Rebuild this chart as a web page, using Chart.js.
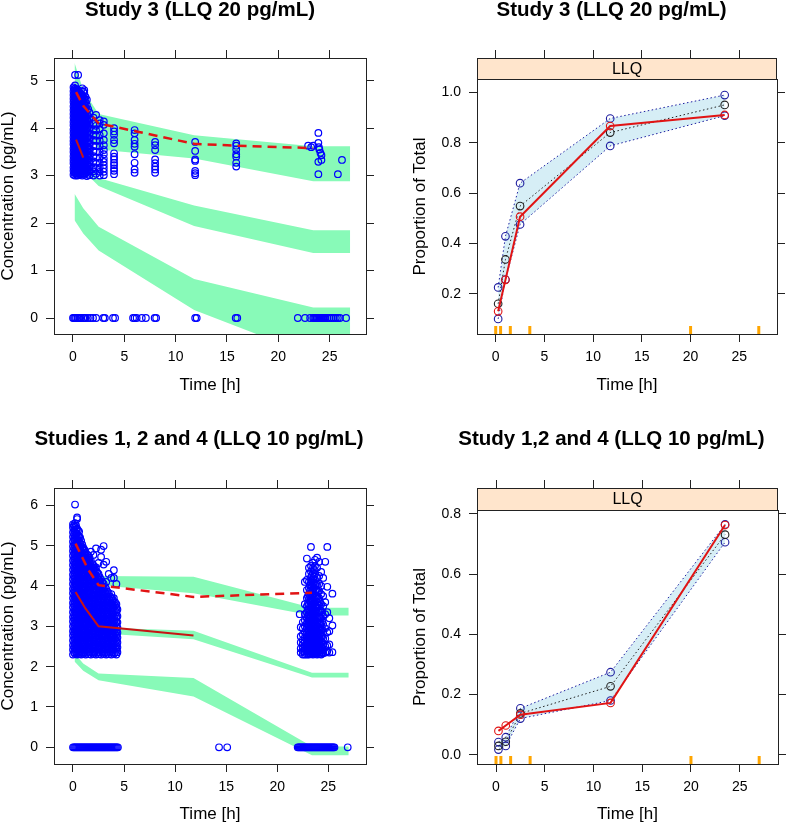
<!DOCTYPE html>
<html>
<head>
<meta charset="UTF-8">
<script src="https://cdn.jsdelivr.net/npm/chart.js@4.4.1/dist/chart.umd.min.js"></script>
<style>
  body { margin: 0; background: #fff; width: 788px; height: 826px; overflow: hidden; position: relative; }
  canvas { position: absolute; }
</style>
</head>
<body>
<canvas id="vpcS3" width="394" height="413" style="left:0;top:0"></canvas>
<canvas id="llqS3" width="394" height="413" style="left:394px;top:0"></canvas>
<canvas id="vpcS124" width="394" height="413" style="left:0;top:413px"></canvas>
<canvas id="llqS124" width="394" height="413" style="left:394px;top:413px"></canvas>
<script>
// ---- axes ----
const timeTicks = [0, 5, 10, 15, 20, 25]
const timeLabels = ['0', '5', '10', '15', '20', '25']
const concTicksS3 = [0, 1, 2, 3, 4, 5]
const concLabelsS3 = ['0', '1', '2', '3', '4', '5']
const concTicksS124 = [0, 1, 2, 3, 4, 5, 6]
const concLabelsS124 = ['0', '1', '2', '3', '4', '5', '6']
const fracTicksS3 = [0.2, 0.4, 0.6, 0.8, 1.0]
const fracLabelsS3 = ['0.2', '0.4', '0.6', '0.8', '1.0']
const fracTicksS124 = [0, 0.2, 0.4, 0.6, 0.8]
const fracLabelsS124 = ['0.0', '0.2', '0.4', '0.6', '0.8']

// ---- simulated prediction intervals (green bands) ----
const bandTime = [0.15, 1, 2.5, 11.8, 23.4, 27]
const s3HiUpper = [5.38, 4.8, 4.3, 3.85, 3.62, 3.62]
const s3HiLower = [4.5, 4.0, 3.55, 3.36, 2.88, 2.88]
const s3MidUpper = [3.9, 3.4, 2.95, 2.37, 1.85, 1.85]
const s3MidLower = [3.55, 3.1, 2.78, 1.94, 1.37, 1.37]
const s3LoUpper = [2.62, 2.31, 1.92, 0.82, 0.22, 0.22]
const s3LoLower = [2.06, 1.78, 1.42, 0.17, -0.8, -0.8]

const s124HiUpper = [5.6, 4.9, 4.25, 4.23, 3.46, 3.46]
const s124HiLower = [5.0, 4.4, 4.02, 3.82, 3.27, 3.27]
const s124MidUpper = [3.9, 3.45, 2.97, 2.89, 1.85, 1.85]
const s124MidLower = [3.6, 3.2, 2.83, 2.68, 1.73, 1.73]
const s124LoUpper = [2.33, 2.08, 1.83, 1.72, 0.02, 0.02]
const s124LoLower = [2.13, 1.9, 1.66, 1.26, -0.2, -0.2]

// ---- observed percentiles (red lines) ----
const s3P95Time = [0.3, 1, 2.5, 11.8, 16, 23.4]
const s3P95 = [4.76, 4.47, 4.1, 3.67, 3.63, 3.58]
const s3P50Time = [0.3, 1]
const s3P50 = [3.76, 3.38]
const s124P95Time = [0.25, 1.5, 2.5, 11.8, 23.4]
const s124P95 = [5.05, 4.4, 4.02, 3.73, 3.83]
const s124P50Time = [0.25, 1.2, 2.5, 11.8]
const s124P50 = [3.85, 3.45, 3.0, 2.77]

// ---- observations, study 3 (one list of concentrations per time) ----
const s3ObsTime = [0.05, 0.12, 0.2, 0.27, 0.35, 0.42, 0.5, 0.6, 0.7, 0.8, 0.9, 1.0, 1.1, 1.22, 1.35, 1.48, 1.6, 2.0, 2.25, 2.6, 3.0, 4.0,
  6.0, 8.0, 11.9, 15.9, 22.9, 23.2, 23.4, 23.9, 23.95, 24.0, 24.1, 24.2, 25.8, 26.2]
const s3ObsConc = [
  [3.02, 3.1, 3.17, 3.26, 3.33, 3.41, 3.5, 3.57, 3.66, 3.73, 3.81, 3.9, 3.97, 4.06, 4.13, 4.22, 4.3, 4.38, 4.46, 4.55, 4.62, 4.7, 4.78, 4.86],
  [3.06, 3.14, 3.22, 3.3, 3.38, 3.46, 3.54, 3.62, 3.7, 3.78, 3.86, 3.94, 4.02, 4.1, 4.18, 4.26, 4.34, 4.42, 4.5, 4.58, 4.66, 4.74, 4.82],
  [3.0, 3.08, 3.15, 3.24, 3.31, 3.4, 3.47, 3.55, 3.63, 3.71, 3.79, 3.87, 3.95, 4.03, 4.11, 4.19, 4.27, 4.35, 4.43, 4.51, 4.59, 4.67, 4.75, 4.83, 4.9, 5.12],
  [3.05, 3.13, 3.21, 3.29, 3.37, 3.45, 3.53, 3.61, 3.69, 3.77, 3.85, 3.93, 4.01, 4.09, 4.17, 4.25, 4.33, 4.41, 4.49, 4.57, 4.65, 4.73, 4.79],
  [3.04, 3.12, 3.2, 3.28, 3.36, 3.45, 3.53, 3.61, 3.69, 3.78, 3.86, 3.93, 4.01, 4.09, 4.17, 4.25, 4.34, 4.42, 4.5, 4.58, 4.66, 4.74, 4.82],
  [3.0, 3.08, 3.16, 3.24, 3.32, 3.4, 3.49, 3.57, 3.65, 3.73, 3.82, 3.9, 3.98, 4.06, 4.14, 4.22, 4.3, 4.38, 4.46, 4.54, 4.62, 4.7, 4.77],
  [3.01, 3.09, 3.18, 3.27, 3.35, 3.43, 3.52, 3.6, 3.68, 3.76, 3.84, 3.92, 4.0, 4.08, 4.16, 4.24, 4.32, 4.41, 4.49, 4.57, 4.65, 4.73, 4.8, 5.12],
  [3.05, 3.14, 3.22, 3.31, 3.4, 3.48, 3.57, 3.66, 3.74, 3.83, 3.91, 4.0, 4.09, 4.17, 4.26, 4.35, 4.43, 4.52, 4.6, 4.68, 4.76],
  [3.03, 3.11, 3.19, 3.28, 3.37, 3.46, 3.54, 3.62, 3.7, 3.79, 3.87, 3.96, 4.05, 4.13, 4.21, 4.3, 4.39, 4.47, 4.56, 4.64, 4.72],
  [3.06, 3.14, 3.23, 3.32, 3.41, 3.5, 3.58, 3.66, 3.75, 3.83, 3.92, 4.01, 4.09, 4.17, 4.26, 4.34, 4.43, 4.51, 4.6, 4.68],
  [3.0, 3.09, 3.17, 3.25, 3.34, 3.42, 3.5, 3.59, 3.67, 3.76, 3.85, 3.93, 4.02, 4.1, 4.19, 4.28, 4.36, 4.45, 4.54, 4.62, 4.7, 4.84],
  [3.05, 3.14, 3.22, 3.31, 3.4, 3.48, 3.57, 3.66, 3.75, 3.84, 3.92, 4.01, 4.1, 4.19, 4.28, 4.37, 4.47, 4.57, 4.67, 4.77],
  [3.02, 3.1, 3.19, 3.27, 3.36, 3.44, 3.53, 3.62, 3.7, 3.79, 3.88, 3.97, 4.06, 4.15, 4.24, 4.33, 4.42, 4.52, 4.62, 4.74, 4.8],
  [3.06, 3.15, 3.24, 3.33, 3.42, 3.51, 3.6, 3.69, 3.78, 3.87, 3.96, 4.05, 4.14, 4.24, 4.34, 4.44, 4.55, 4.66],
  [2.99, 3.07, 3.16, 3.25, 3.34, 3.43, 3.52, 3.61, 3.7, 3.8, 3.89, 3.98, 4.08, 4.18, 4.28, 4.38, 4.48, 4.6],
  [3.04, 3.13, 3.22, 3.32, 3.41, 3.51, 3.61, 3.71, 3.81, 3.92, 4.03, 4.14, 4.26, 4.4],
  [3.01, 3.1, 3.19, 3.29, 3.38, 3.48, 3.58, 3.68, 3.78, 3.88, 3.99, 4.1, 4.21, 4.33],
  [3.0, 3.09, 3.18, 3.3, 3.41, 3.52, 3.63, 3.75, 3.86, 3.98, 4.1, 4.22],
  [3.04, 3.15, 3.25, 3.38, 3.5, 3.62, 3.73, 3.84, 3.95, 4.05, 4.28],
  [3.0, 3.08, 3.17, 3.27, 3.38, 3.5, 3.62, 3.74, 3.85, 3.98, 4.1, 4.17],
  [3.01, 3.08, 3.15, 3.22, 3.29, 3.36, 3.45, 3.54, 3.64, 3.75, 3.89, 4.07, 4.14],
  [3.03, 3.1, 3.15, 3.22, 3.27, 3.34, 3.4, 3.47, 3.68, 3.75, 3.86, 3.93, 4.0],
  [3.06, 3.13, 3.27, 3.45, 3.61, 3.67, 3.75, 3.89, 3.96],
  [3.06, 3.13, 3.19, 3.26, 3.34, 3.54, 3.64, 3.71],
  [3.01, 3.05, 3.1, 3.31, 3.34, 3.52, 3.71],
  [3.19, 3.27, 3.4, 3.45, 3.55, 3.63, 3.68],
  [3.63], [3.6], [3.63], [3.03, 3.29, 3.69, 3.9], [3.6], [3.55], [3.48], [3.43, 3.33], [3.03], [3.33]
]
const s3BlqTime = [0, 0.1, 0.2, 0.3, 0.45, 0.6, 0.7, 0.8, 1.0, 1.1, 1.2, 1.45, 1.7, 1.95, 2.25, 2.95, 3.1, 3.9, 4.1, 5.85, 6.0, 6.2,
  6.7, 7.1, 7.95, 8.1, 11.9, 12.05, 15.85, 16.0, 21.9, 22.6, 23.1, 23.4, 23.5, 23.6, 23.7, 23.8, 23.9, 24.0, 24.1, 24.2,
  24.3, 24.4, 24.5, 24.6, 24.8, 25.0, 25.2, 25.4, 25.6, 25.8, 26.0, 26.6]

// ---- observations, studies 1, 2 and 4 ----
const s124ObsTime = [0, 0.1, 0.2, 0.3, 0.4, 0.5, 0.6, 0.7, 0.8, 0.9, 1, 1.12, 1.25, 1.37, 1.5, 1.62, 1.75, 1.87, 2, 2.12,
  2.25, 2.37, 2.5, 2.62, 2.75, 2.87, 3, 3.12, 3.25, 3.37, 3.5, 3.62, 3.75, 3.87, 4, 4.12, 4.25, 4.35,
  22.2, 22.3, 22.5, 22.7, 22.9, 23.0, 23.1, 23.2, 23.3, 23.4, 23.5, 23.6, 23.7, 23.8, 23.9, 24.0, 24.1, 24.2, 24.3, 24.4,
  24.5, 24.7, 24.9, 25.1, 25.4]
const s124ObsConc = [
  [2.3, 2.42, 2.53, 2.65, 2.77, 2.88, 3.0, 3.12, 3.23, 3.35, 3.47, 3.58, 3.7, 3.82, 3.93, 4.05, 4.17, 4.28, 4.4, 4.52, 4.63, 4.75, 4.87, 4.98, 5.1, 5.22, 5.33, 5.45, 5.53],
  [2.36, 2.48, 2.59, 2.71, 2.83, 2.94, 3.06, 3.18, 3.29, 3.41, 3.53, 3.64, 3.76, 3.88, 3.99, 4.11, 4.23, 4.34, 4.46, 4.58, 4.69, 4.81, 4.93, 5.04, 5.16, 5.28, 5.39, 5.5],
  [2.32, 2.44, 2.55, 2.67, 2.79, 2.9, 3.02, 3.14, 3.25, 3.37, 3.49, 3.6, 3.72, 3.84, 3.95, 4.07, 4.19, 4.3, 4.42, 4.54, 4.65, 4.77, 4.89, 5.0, 5.12, 5.24, 5.35, 5.47, 5.56, 6.02],
  [2.37, 2.49, 2.6, 2.72, 2.84, 2.95, 3.07, 3.19, 3.3, 3.42, 3.54, 3.65, 3.77, 3.89, 4.0, 4.12, 4.24, 4.35, 4.47, 4.59, 4.7, 4.82, 4.94, 5.05, 5.17, 5.29, 5.4, 5.5],
  [2.3, 2.41, 2.52, 2.64, 2.75, 2.86, 2.98, 3.1, 3.21, 3.33, 3.44, 3.56, 3.68, 3.79, 3.91, 4.02, 4.14, 4.26, 4.37, 4.49, 4.6, 4.72, 4.84, 4.95, 5.07, 5.19, 5.3, 5.42, 5.66, 5.7],
  [2.35, 2.47, 2.58, 2.7, 2.81, 2.93, 3.05, 3.16, 3.28, 3.39, 3.51, 3.63, 3.74, 3.86, 3.97, 4.09, 4.21, 4.32, 4.44, 4.55, 4.67, 4.79, 4.9, 5.02, 5.13, 5.25, 5.38],
  [2.31, 2.43, 2.54, 2.66, 2.78, 2.89, 3.01, 3.13, 3.24, 3.36, 3.48, 3.59, 3.71, 3.83, 3.94, 4.06, 4.18, 4.29, 4.41, 4.53, 4.64, 4.76, 4.88, 4.99, 5.11, 5.23, 5.35],
  [2.37, 2.48, 2.6, 2.72, 2.83, 2.95, 3.07, 3.18, 3.3, 3.42, 3.53, 3.65, 3.77, 3.88, 4.0, 4.12, 4.23, 4.35, 4.47, 4.58, 4.7, 4.82, 4.93, 5.05, 5.2],
  [2.3, 2.42, 2.54, 2.65, 2.77, 2.89, 3.0, 3.12, 3.24, 3.35, 3.47, 3.59, 3.7, 3.82, 3.94, 4.05, 4.17, 4.29, 4.4, 4.52, 4.64, 4.75, 4.87, 4.99, 5.12],
  [2.36, 2.48, 2.59, 2.71, 2.83, 2.94, 3.06, 3.18, 3.29, 3.41, 3.53, 3.64, 3.76, 3.88, 3.99, 4.11, 4.23, 4.34, 4.46, 4.58, 4.69, 4.81, 4.93, 5.03],
  [2.32, 2.43, 2.55, 2.67, 2.78, 2.9, 3.02, 3.13, 3.25, 3.37, 3.48, 3.6, 3.72, 3.83, 3.95, 4.07, 4.18, 4.3, 4.42, 4.53, 4.65, 4.77, 4.88, 4.96],
  [2.37, 2.49, 2.6, 2.72, 2.84, 2.95, 3.07, 3.19, 3.3, 3.42, 3.54, 3.65, 3.77, 3.89, 4.0, 4.12, 4.24, 4.35, 4.47, 4.59, 4.7, 4.82, 4.9],
  [2.3, 2.41, 2.53, 2.65, 2.76, 2.88, 3.0, 3.11, 3.23, 3.35, 3.46, 3.58, 3.7, 3.81, 3.93, 4.05, 4.16, 4.28, 4.4, 4.51, 4.63, 4.75, 4.82],
  [2.35, 2.47, 2.59, 2.7, 2.82, 2.94, 3.05, 3.17, 3.29, 3.4, 3.52, 3.64, 3.75, 3.87, 3.99, 4.1, 4.22, 4.34, 4.45, 4.57, 4.68, 4.78],
  [2.31, 2.43, 2.55, 2.66, 2.78, 2.9, 3.01, 3.13, 3.25, 3.36, 3.48, 3.6, 3.71, 3.83, 3.95, 4.06, 4.18, 4.3, 4.41, 4.53, 4.65, 4.76],
  [2.37, 2.48, 2.6, 2.72, 2.83, 2.95, 3.07, 3.18, 3.3, 3.42, 3.53, 3.65, 3.77, 3.88, 4.0, 4.12, 4.23, 4.35, 4.47, 4.58, 4.7],
  [2.3, 2.42, 2.53, 2.65, 2.77, 2.88, 3.0, 3.12, 3.23, 3.35, 3.47, 3.58, 3.7, 3.82, 3.93, 4.05, 4.17, 4.28, 4.4, 4.52, 4.62, 4.85],
  [2.36, 2.48, 2.59, 2.71, 2.83, 2.94, 3.06, 3.18, 3.29, 3.41, 3.53, 3.64, 3.76, 3.88, 3.99, 4.11, 4.23, 4.34, 4.46, 4.55],
  [2.32, 2.44, 2.55, 2.67, 2.79, 2.9, 3.02, 3.14, 3.25, 3.37, 3.49, 3.6, 3.72, 3.84, 3.95, 4.07, 4.19, 4.3, 4.42, 4.52, 4.77],
  [2.37, 2.49, 2.61, 2.72, 2.84, 2.96, 3.07, 3.19, 3.31, 3.42, 3.54, 3.66, 3.77, 3.89, 4.01, 4.12, 4.24, 4.36, 4.45],
  [2.3, 2.41, 2.53, 2.64, 2.76, 2.88, 2.99, 3.11, 3.22, 3.34, 3.46, 3.57, 3.69, 3.8, 3.92, 4.04, 4.15, 4.27, 4.38, 4.46, 4.93],
  [2.35, 2.47, 2.58, 2.7, 2.82, 2.93, 3.05, 3.17, 3.28, 3.4, 3.52, 3.63, 3.75, 3.87, 3.98, 4.1, 4.22, 4.34],
  [2.31, 2.43, 2.54, 2.66, 2.78, 2.89, 3.01, 3.12, 3.24, 3.36, 3.47, 3.59, 3.7, 3.82, 3.94, 4.05, 4.17, 4.3, 4.57],
  [2.36, 2.48, 2.6, 2.71, 2.83, 2.95, 3.06, 3.18, 3.3, 3.41, 3.53, 3.65, 3.76, 3.88, 4.0, 4.11, 4.22],
  [2.3, 2.42, 2.53, 2.65, 2.76, 2.88, 3.0, 3.11, 3.23, 3.34, 3.46, 3.58, 3.69, 3.81, 3.92, 4.04, 4.16, 4.72, 4.9],
  [2.37, 2.48, 2.6, 2.71, 2.83, 2.95, 3.06, 3.18, 3.29, 3.41, 3.53, 3.64, 3.76, 3.87, 3.99, 4.1],
  [2.32, 2.43, 2.55, 2.67, 2.78, 2.9, 3.01, 3.13, 3.25, 3.36, 3.48, 3.59, 3.71, 3.83, 3.94, 4.06, 4.53, 4.99],
  [2.36, 2.48, 2.59, 2.71, 2.82, 2.94, 3.06, 3.17, 3.29, 3.4, 3.52, 3.64, 3.75, 3.87, 3.98],
  [2.3, 2.42, 2.54, 2.65, 2.77, 2.88, 3.0, 3.12, 3.23, 3.35, 3.46, 3.58, 3.7, 3.81, 3.93, 4.1, 4.6],
  [2.35, 2.47, 2.58, 2.7, 2.82, 2.93, 3.05, 3.16, 3.28, 3.4, 3.51, 3.63, 3.74, 3.86],
  [2.31, 2.43, 2.54, 2.66, 2.77, 2.89, 3.01, 3.12, 3.24, 3.35, 3.47, 3.59, 3.7, 3.82, 4.3],
  [2.37, 2.48, 2.6, 2.72, 2.83, 2.95, 3.06, 3.18, 3.3, 3.41, 3.53, 3.64, 3.74],
  [2.3, 2.42, 2.53, 2.65, 2.77, 2.88, 3.0, 3.11, 3.23, 3.35, 3.46, 3.58, 3.7, 3.8, 4.2],
  [2.36, 2.47, 2.59, 2.71, 2.82, 2.94, 3.05, 3.17, 3.29, 3.4, 3.52, 3.63, 3.68],
  [2.32, 2.43, 2.55, 2.66, 2.78, 2.9, 3.01, 3.13, 3.24, 3.36, 3.48, 3.59, 3.7, 4.2, 4.39],
  [2.35, 2.47, 2.58, 2.7, 2.82, 2.93, 3.05, 3.16, 3.28, 3.4, 3.51, 3.6],
  [2.3, 2.42, 2.53, 2.65, 2.77, 2.88, 3.0, 3.11, 3.23, 3.35, 3.46, 3.55, 4.05],
  [2.36, 2.48, 2.6, 2.72, 2.84, 2.97, 3.1, 3.25, 3.42],
  [3.3],
  [2.35, 2.45, 2.6, 2.75, 2.98],
  [2.3, 2.38, 2.47, 2.56, 2.66, 2.8, 2.95, 3.1],
  [2.3, 2.37, 2.45, 2.53, 2.62, 2.72, 2.85, 3.0, 3.15, 3.3, 3.55, 4.1],
  [2.3, 2.38, 2.46, 2.55, 2.64, 2.74, 2.85, 2.96, 3.08, 3.2, 3.35, 3.5, 3.7, 3.9, 4.15, 4.68],
  [2.34, 2.42, 2.51, 2.6, 2.69, 2.79, 2.9, 3.02, 3.14, 3.27, 3.4, 3.56, 3.75],
  [2.3, 2.38, 2.46, 2.55, 2.63, 2.72, 2.81, 2.9, 3.0, 3.1, 3.2, 3.3, 3.42, 3.55, 3.68, 3.8, 3.95, 4.1, 4.3, 4.45],
  [2.34, 2.42, 2.51, 2.59, 2.68, 2.77, 2.86, 2.96, 3.06, 3.16, 3.26, 3.37, 3.49, 3.62, 3.75, 3.88, 4.02],
  [2.31, 2.39, 2.47, 2.56, 2.65, 2.74, 2.83, 2.93, 3.03, 3.13, 3.24, 3.35, 3.46, 3.58, 3.7, 3.82, 3.95, 4.08, 4.22, 4.36, 4.5, 4.97],
  [2.35, 2.43, 2.52, 2.61, 2.7, 2.79, 2.89, 2.99, 3.09, 3.19, 3.3, 3.41, 3.52, 3.64, 3.76, 3.88, 4.0, 4.14, 4.27],
  [2.3, 2.38, 2.47, 2.55, 2.64, 2.73, 2.82, 2.92, 3.02, 3.12, 3.22, 3.33, 3.44, 3.55, 3.67, 3.79, 3.91, 4.04, 4.17, 4.31, 4.45, 4.58],
  [2.34, 2.43, 2.52, 2.61, 2.7, 2.8, 2.9, 3.0, 3.11, 3.22, 3.33, 3.45, 3.57, 3.69, 3.82, 3.95, 4.09, 4.23, 4.4],
  [2.32, 2.4, 2.48, 2.57, 2.66, 2.75, 2.85, 2.95, 3.05, 3.16, 3.27, 3.38, 3.5, 3.62, 3.75, 3.88, 4.02, 4.16, 4.3, 4.5, 4.65],
  [2.36, 2.44, 2.53, 2.62, 2.72, 2.82, 2.92, 3.03, 3.14, 3.25, 3.37, 3.49, 3.62, 3.75, 3.9, 4.05],
  [2.3, 2.39, 2.48, 2.57, 2.67, 2.77, 2.88, 2.99, 3.1, 3.22, 3.34, 3.47, 3.6, 3.74, 3.88, 4.03, 4.2, 4.45, 4.7],
  [2.35, 2.44, 2.54, 2.64, 2.75, 2.86, 2.98, 3.1, 3.23, 3.37, 3.52, 3.68, 3.85],
  [2.31, 2.4, 2.5, 2.6, 2.71, 2.83, 2.95, 3.08, 3.22, 3.36, 3.52, 3.7, 3.88, 4.05, 4.25, 4.6],
  [2.35, 2.45, 2.56, 2.68, 2.8, 2.93, 3.07, 3.22, 3.4, 3.6],
  [2.3, 2.4, 2.5, 2.62, 2.75, 2.9, 3.05, 3.2, 3.38, 3.55, 3.8, 4.0, 4.35],
  [2.36, 2.47, 2.6, 2.75, 2.92, 3.12, 3.35],
  [2.33, 2.43, 2.55, 2.7, 2.86, 3.05, 3.25, 3.5, 3.75, 4.2],
  [2.35, 2.5, 2.7, 2.95, 3.3, 3.6, 4.6],
  [2.38, 2.52, 2.85, 3.35, 3.98, 4.97],
  [2.35, 2.55, 2.88, 3.2],
  [2.36, 3.02, 3.81]
]
const s124BlqTime = [0, 0.1, 0.2, 0.3, 0.4, 0.5, 0.6, 0.7, 0.8, 0.9, 1, 1.1, 1.2, 1.3, 1.4, 1.5, 1.6, 1.7, 1.8, 1.9, 2, 2.1,
  2.2, 2.3, 2.4, 2.5, 2.6, 2.7, 2.8, 2.9, 3, 3.1, 3.2, 3.3, 3.4, 3.5, 3.6, 3.7, 3.8, 3.9, 4, 4.1, 4.2, 4.3, 4.4,
  14.3, 15.1, 22, 22.1, 22.2, 22.3, 22.4, 22.5, 22.6, 22.7, 22.8, 22.9, 23, 23.1, 23.2, 23.3, 23.4, 23.5, 23.6, 23.7,
  23.8, 23.9, 24, 24.1, 24.2, 24.3, 24.4, 24.5, 24.6, 24.7, 24.8, 24.9, 25, 25.1, 25.2, 25.3, 25.4, 25.5, 25.6, 26.9]

// ---- proportion below LLQ ----
const llqTime = [0.25, 1, 2.5, 11.75, 23.5]
const s3SimHi = [0.225, 0.428, 0.639, 0.896, 0.989]
const s3SimMed = [0.16, 0.336, 0.548, 0.84, 0.95]
const s3SimLo = [0.1, 0.256, 0.475, 0.787, 0.907]
const s3ObsFrac = [0.13, 0.255, 0.506, 0.866, 0.91]
const s124SimHi = [0.042, 0.058, 0.154, 0.274, 0.765]
const s124SimMed = [0.029, 0.043, 0.137, 0.227, 0.731]
const s124SimLo = [0.017, 0.029, 0.12, 0.18, 0.706]
const s124ObsFrac = [0.079, 0.097, 0.133, 0.172, 0.763]
const binEdges = [0, 0.5, 1.5, 3.5, 20, 27]

// ---- drawing ----
const FONT = '"Liberation Sans", Arial, sans-serif'
const INK = '#222'
const GREEN = 'rgb(136,250,184)'
const BLUE = 'rgb(0,0,255)'
const NAVY = 'rgb(30,30,160)'
const RED = 'rgb(225,20,20)'
Chart.defaults.font.family = FONT
Chart.defaults.color = '#000'

const pts = (xs, ys) => xs.map((x, i) => ({x, y: ys[i]}))
const cols = (ts, vs) => ts.flatMap((t, i) => vs[i].map(v => ({x: t, y: v})))
const blq = ts => ts.map(t => ({x: t, y: 0}))

const panelDeco = {
  id: 'panelDeco',
  afterDraw(chart, args, o) {
    const {ctx, chartArea: a} = chart
    ctx.save()
    if (o.strip) {
      const top = a.top - o.strip
      ctx.fillStyle = 'rgb(255,229,204)'
      ctx.fillRect(a.left, top, a.right - a.left, o.strip)
      ctx.strokeStyle = INK
      ctx.lineWidth = 1
      ctx.strokeRect(Math.round(a.left) + 0.5, Math.round(top) + 0.5, Math.round(a.right - a.left) - 1, o.strip)
      ctx.fillStyle = '#000'
      ctx.font = '16px ' + FONT
      ctx.textAlign = 'center'
      ctx.textBaseline = 'middle'
      ctx.fillText('LLQ', (a.left + a.right) / 2, top + o.strip / 2 + 1)
    }
    if (o.rug) {
      const xs = chart.scales.x
      ctx.strokeStyle = 'rgb(255,165,0)'
      ctx.lineWidth = 3
      o.rug.forEach(t => {
        const px = xs.getPixelForValue(t)
        ctx.beginPath()
        ctx.moveTo(px, a.bottom)
        ctx.lineTo(px, a.bottom - 8)
        ctx.stroke()
      })
    }
    ctx.fillStyle = '#000'
    ctx.font = 'bold 20.5px ' + FONT
    ctx.textAlign = 'center'
    ctx.textBaseline = 'middle'
    ctx.fillText(o.title, o.titleX, o.titleY)
    ctx.restore()
  }
}

function panel(id, p, datasets) {
  const W = 394, H = 413
  const setTicks = vals => s => { s.ticks = vals.map(v => ({value: v})) }
  const grid = len => ({drawOnChartArea: false, drawTicks: true, tickLength: len, color: INK})
  const border = {color: INK, width: 1}
  return new Chart(document.getElementById(id), {
    type: 'line',
    data: {datasets},
    options: {
      responsive: false, animation: false, devicePixelRatio: 1, events: [],
      layout: {padding: 0},
      plugins: {
        legend: {display: false}, tooltip: {enabled: false},
        panelDeco: {title: p.title, titleX: p.titleX, titleY: p.titleY, strip: p.strip, rug: p.rug}
      },
      scales: {
        x: {
          type: 'linear', position: 'bottom', min: p.xMin, max: p.xMax,
          afterBuildTicks: setTicks(timeTicks), afterFit: s => { s.height = H - p.bottom },
          grid: grid(8), border,
          ticks: {font: {size: 14}, padding: 7, maxRotation: 0, callback: (v, i) => timeLabels[i]},
          title: {display: true, text: 'Time [h]', font: {size: 17, lineHeight: 1}, padding: {top: 0, bottom: p.xTitlePad}}
        },
        y: {
          type: 'linear', position: 'left', min: p.yMin, max: p.yMax,
          afterBuildTicks: setTicks(p.yTicks), afterFit: s => { s.width = p.left },
          grid: grid(8), border,
          ticks: {font: {size: 14}, padding: 8, callback: (v, i) => p.yLabels[i]},
          title: {display: true, text: p.yTitle, font: {size: 17, lineHeight: 1}, padding: {top: p.yTitlePad, bottom: 0}}
        },
        x2: {
          type: 'linear', position: 'top', min: p.xMin, max: p.xMax,
          afterBuildTicks: setTicks(timeTicks), afterFit: s => { s.height = p.top },
          grid: grid(8 + (p.strip || 0)), border, ticks: {display: false}
        },
        y2: {
          type: 'linear', position: 'right', min: p.yMin, max: p.yMax,
          afterBuildTicks: setTicks(p.yTicks), afterFit: s => { s.width = W - p.right },
          grid: grid(8), border, ticks: {display: false}
        }
      }
    },
    plugins: [panelDeco]
  })
}

// each green band: an invisible lower edge, then the upper edge filled down to it
function band(hi, lo) {
  return [
    {data: pts(bandTime, lo), borderWidth: 0, borderColor: 'transparent', pointRadius: 0, fill: false, order: 11},
    {data: pts(bandTime, hi), borderWidth: 0, borderColor: 'transparent', pointRadius: 0,
      fill: '-1', backgroundColor: GREEN, order: 10}
  ]
}

function vpcSets(bands, obsT, obsC, blqT, p95T, p95, p50T, p50) {
  const obsStyle = {showLine: false, pointRadius: 3.3, pointBorderWidth: 1.2, pointBorderColor: BLUE,
    pointBackgroundColor: 'transparent', order: 5}
  return [
    ...bands.flatMap(b => band(b[0], b[1])),
    {data: cols(obsT, obsC), ...obsStyle},
    {data: blq(blqT), ...obsStyle},
    {data: pts(p95T, p95), borderColor: RED, borderWidth: 2.5, borderDash: [9, 6], pointRadius: 0, order: 1},
    {data: pts(p50T, p50), borderColor: 'rgb(200,20,20)', borderWidth: 2, pointRadius: 0, order: 1}
  ]
}

function llqSets(hi, med, lo, obs) {
  const dotted = c => ({borderColor: c, borderWidth: 1, borderDash: [1.5, 2.5], pointRadius: 3.8,
    pointBorderWidth: 1.1, pointBorderColor: c, pointBackgroundColor: 'transparent'})
  return [
    {data: pts(llqTime, hi), ...dotted(NAVY), order: 3},
    {data: pts(llqTime, lo), ...dotted(NAVY), fill: 0, backgroundColor: 'rgb(214,238,246)', order: 4},
    {data: pts(llqTime, med), ...dotted('#222'), order: 2},
    {data: pts(llqTime, obs), borderColor: RED, borderWidth: 2, pointRadius: 3.8, pointBorderWidth: 1.1,
      pointBorderColor: RED, pointBackgroundColor: 'transparent', order: 1}
  ]
}

panel('vpcS3', {
  left: 54, right: 366, top: 58, bottom: 334,
  xMin: -1.85, xMax: 28.54, yMin: -0.337, yMax: 5.478, yTicks: concTicksS3, yLabels: concLabelsS3,
  title: 'Study 3 (LLQ 20 pg/mL)', titleX: 200, titleY: 10,
  yTitle: 'Concentration (pg/mL)', yTitlePad: 0, xTitlePad: 19.5
}, vpcSets([[s3HiUpper, s3HiLower], [s3MidUpper, s3MidLower], [s3LoUpper, s3LoLower]],
  s3ObsTime, s3ObsConc, s3BlqTime, s3P95Time, s3P95, s3P50Time, s3P50))

panel('llqS3', {
  left: 83, right: 383, top: 79, bottom: 334, strip: 21, rug: binEdges,
  xMin: -1.92, xMax: 28.87, yMin: 0.04, yMax: 1.0528, yTicks: fracTicksS3, yLabels: fracLabelsS3,
  title: 'Study 3 (LLQ 20 pg/mL)', titleX: 217.5, titleY: 10,
  yTitle: 'Proportion of Total', yTitlePad: 17.5, xTitlePad: 19.5
}, llqSets(s3SimHi, s3SimMed, s3SimLo, s3ObsFrac))

panel('vpcS124', {
  left: 54, right: 366, top: 75, bottom: 351,
  xMin: -1.86, xMax: 28.69, yMin: -0.414, yMax: 6.43, yTicks: concTicksS124, yLabels: concLabelsS124,
  title: 'Studies 1, 2 and 4 (LLQ 10 pg/mL)', titleX: 199, titleY: 26,
  yTitle: 'Concentration (pg/mL)', yTitlePad: 0, xTitlePad: 2.8
}, vpcSets([[s124HiUpper, s124HiLower], [s124MidUpper, s124MidLower], [s124LoUpper, s124LoLower]],
  s124ObsTime, s124ObsConc, s124BlqTime, s124P95Time, s124P95, s124P50Time, s124P50))

panel('llqS124', {
  left: 83, right: 384, top: 97, bottom: 351, strip: 22, rug: binEdges,
  xMin: -1.95, xMax: 28.93, yMin: -0.031, yMax: 0.813, yTicks: fracTicksS124, yLabels: fracLabelsS124,
  title: 'Study 1,2 and 4 (LLQ 10 pg/mL)', titleX: 217.5, titleY: 26,
  yTitle: 'Proportion of Total', yTitlePad: 17.5, xTitlePad: 2.8
}, llqSets(s124SimHi, s124SimMed, s124SimLo, s124ObsFrac))
</script>
</body>
</html>
